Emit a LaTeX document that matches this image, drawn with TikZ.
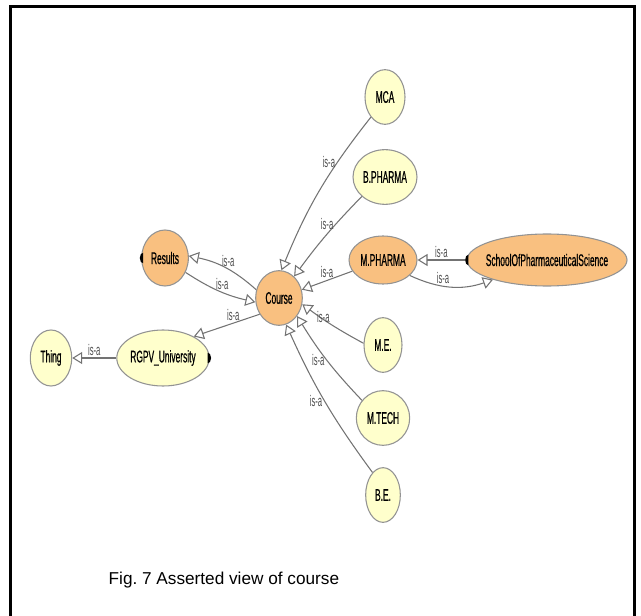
\documentclass[tikz,border=0pt]{standalone}
\usepackage{fontspec}
\setmainfont{Liberation Sans}
\newfontfamily\narrowfont[FakeStretch=0.5,FakeBold=0.6]{Liberation Sans}
\newfontfamily\labelfont[FakeStretch=0.5]{Liberation Sans}
\usepackage{tikz}
\usetikzlibrary{shapes.geometric}
\usetikzlibrary{arrows.meta}
\definecolor{clsyellow}{RGB}{255,255,204}
\definecolor{clsorange}{RGB}{249,192,128}
\definecolor{edgegray}{RGB}{115,115,115}

\begin{document}
\begin{tikzpicture}[x=0.75pt,y=0.75pt,
        cls/.style={ellipse,draw=gray!85,line width=0.8pt,fill=clsyellow,inner sep=0pt,
            font=\narrowfont\fontsize{12.6}{12.6}\selectfont},
        selcls/.style={cls,fill=clsorange},
        isa/.style={draw=edgegray,line width=0.8pt,-{Triangle[open,length=7.5pt,width=9pt]}},
        lbl/.style={font=\labelfont\fontsize{11.5}{11.5}\selectfont,text=black!70,inner sep=1.5pt}]
        \useasboundingbox (0,0) rectangle (641,-616);
        \draw[line width=1.6pt] (10.5,-640) -- (10.5,-6.5) -- (634.5,-6.5) -- (634.5,-640);
        \node[cls,minimum width=30pt,minimum height=41pt] (mca) at (385,-97) {MCA};
        \node[cls,minimum width=48pt,minimum height=41pt] (bph) at (385,-177) {B.PHARMA};
        \node[selcls,minimum width=51pt,minimum height=36pt] (mph) at (383,-260) {M.PHARMA};
        \node[selcls,minimum width=120pt,minimum height=39pt,inner xsep=-14pt] (school) at (547,-260) {SchoolOfPharmaceuticalScience};
        \node[selcls,minimum width=35pt,minimum height=42pt] (results) at (165,-258) {Results};
        \node[selcls,minimum width=35pt,minimum height=41pt] (course) at (279,-298) {Course};
        \node[cls,minimum width=28.5pt,minimum height=41pt] (me) at (383,-345) {M.E.};
        \node[cls,minimum width=40pt,minimum height=41pt] (mtech) at (383,-418) {M.TECH};
        \node[cls,minimum width=26pt,minimum height=41pt] (be) at (383,-495) {B.E.};
        \node[cls,minimum width=65pt,minimum height=42pt] (rgpv) at (163,-358) {RGPV\_University};
        \node[cls,minimum width=31pt,minimum height=42pt] (thing) at (51,-358) {Thing};
        \fill ([xshift=1.5pt]results.west) ++(0,4pt) arc[start angle=90,end angle=270,x radius=2.5pt,y radius=4pt] -- cycle;
        \fill ([xshift=1.5pt]school.west) ++(0,4pt) arc[start angle=90,end angle=270,x radius=2.5pt,y radius=4pt] -- cycle;
        \fill ([xshift=-1.5pt]rgpv.east) ++(0,4pt) arc[start angle=90,end angle=-90,x radius=2.5pt,y radius=4pt] -- cycle;
        \draw[isa] (mca.235) to[bend right=8] node[lbl,pos=0.3,left] {is-a} (course.85);
        \draw[isa] (bph.220) to[bend right=4] node[lbl,pos=0.35,left] {is-a} (course.55);
        \draw[isa] (mph.200) to node[lbl,pos=0.5,above] {is-a} (course.20);
        \draw[isa] (me.175) to[bend left=4] node[lbl,pos=0.5,above left] {is-a} (course.-15);
        \draw[isa] (mtech.140) to[bend left=6] node[lbl,pos=0.5,left] {is-a} (course.-45);
        \draw[isa] (be.115) to[bend left=6] node[lbl,pos=0.5,left] {is-a} (course.-75);
        \draw[isa] (course.160) to[bend right=15] node[lbl,pos=0.45,above] {is-a} (results.5);
        \draw[isa] (results.-35) to[bend right=10] node[lbl,pos=0.55,above] {is-a} (course.190);
        \draw[isa] (course.220) to node[lbl,pos=0.4,above] {is-a} (rgpv.35);
        \draw[isa] (rgpv.west) to node[lbl,pos=0.5,above] {is-a} (thing.east);
        \draw[isa] ([xshift=-1pt]school.west) to node[lbl,pos=0.5,above] {is-a} (mph.east);
        \draw[isa] (mph.-30) to[bend right=22] node[lbl,pos=0.4,above] {is-a} (school.200);
        \node[font=\fontsize{12.9}{12.9}\selectfont,anchor=base west] (caption) at (104,-584) {Fig.\ 7 Asserted view of course};
    \end{tikzpicture}
\end{document}
